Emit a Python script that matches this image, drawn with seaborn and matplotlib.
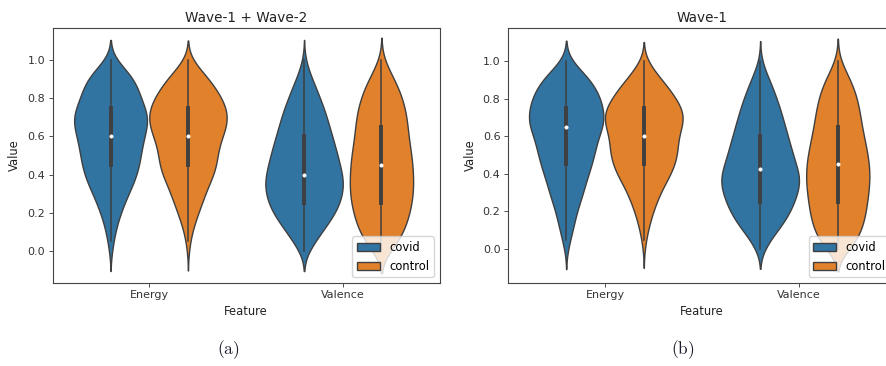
import matplotlib
matplotlib.use("Agg")
import matplotlib.pyplot as plt
import numpy as np
import pandas as pd
import seaborn as sns

# value bins (0.05 wide) and how many observations sit in each bin,
# read off the widths of the violins in the reference
bin_values = [0.00, 0.05, 0.10, 0.15, 0.20, 0.25, 0.30, 0.35, 0.40, 0.45, 0.50,
              0.55, 0.60, 0.65, 0.70, 0.75, 0.80, 0.85, 0.90, 0.95, 1.00]

features = ["Energy", "Valence"]
groups = ["covid", "control"]

# (a) Wave-1 + Wave-2
wave12_energy_covid = [5, 8, 14, 20, 30, 40, 52, 66, 76, 84, 87,
                       92, 98, 106, 112, 100, 88, 80, 70, 45, 15]
wave12_energy_control = [3, 6, 12, 20, 30, 40, 50, 60, 75, 82, 85,
                         88, 100, 110, 116, 110, 98, 80, 62, 35, 12]
wave12_valence_covid = [14, 32, 52, 72, 92, 104, 112, 116, 112, 104, 98,
                        90, 82, 74, 66, 58, 46, 36, 24, 12, 5]
wave12_valence_control = [30, 50, 66, 76, 84, 90, 94, 95, 94, 92, 90,
                          84, 80, 78, 75, 70, 62, 52, 38, 22, 8]

# (b) Wave-1
wave1_energy_covid = [6, 12, 20, 26, 32, 42, 52, 58, 68, 78, 84,
                      92, 96, 114, 116, 112, 104, 92, 74, 45, 14]
wave1_energy_control = [3, 6, 12, 18, 26, 36, 46, 60, 76, 86, 94,
                        94, 96, 106, 114, 106, 90, 72, 50, 28, 10]
wave1_valence_covid = [14, 30, 54, 76, 92, 104, 114, 122, 120, 108, 100,
                       92, 84, 76, 68, 60, 50, 40, 28, 15, 5]
wave1_valence_control = [40, 60, 70, 80, 84, 88, 92, 95, 96, 94, 90,
                         84, 78, 72, 68, 64, 58, 50, 38, 22, 8]


def build_frame(energy_covid, energy_control, valence_covid, valence_control):
    parts = []
    for feature, group, counts in [("Energy", "covid", energy_covid),
                                   ("Energy", "control", energy_control),
                                   ("Valence", "covid", valence_covid),
                                   ("Valence", "control", valence_control)]:
        values = np.repeat(bin_values, counts)
        parts.append(pd.DataFrame({"Feature": feature, "Group": group, "Value": values}))
    return pd.concat(parts, ignore_index=True)


panels = [
    ("Wave-1 + Wave-2",
     build_frame(wave12_energy_covid, wave12_energy_control,
                 wave12_valence_covid, wave12_valence_control),
     [0.0592, 0.2268, 0.4363, 0.6967], (-0.168, 1.168), "(a)", 0.257),
    ("Wave-1",
     build_frame(wave1_energy_covid, wave1_energy_control,
                 wave1_valence_covid, wave1_valence_control),
     [0.5727, 0.2268, 0.4374, 0.6967], (-0.181, 1.175), "(b)", 0.770),
]

plt.rcParams["font.family"] = ["DejaVu Sans"]
tick_fs = 8
label_fs = 8.3

fig = plt.figure(figsize=(8.87, 3.66), dpi=100)

for title, frame, rect, ylim, caption, cap_x in panels:
    ax = fig.add_axes(rect)
    # one call per feature so each pair of violins is scaled together
    for feature in features:
        sns.violinplot(
            data=frame[frame["Feature"] == feature],
            x="Feature", y="Value", hue="Group",
            order=features, hue_order=groups,
            common_norm=True, linewidth=1.0, inner="box",
            inner_kws=dict(box_width=2.8, whis_width=1.1, marker="o"),
            legend=(feature == features[-1]), ax=ax,
        )
    ax.set_ylim(*ylim)
    ax.set_title(title, fontsize=9.8, pad=4.5, color="#222222")
    ax.set_xlabel("Feature", fontsize=label_fs, labelpad=3, color="#222222")
    ax.set_ylabel("Value", fontsize=label_fs, labelpad=4.5, color="#222222")
    ax.tick_params(labelsize=tick_fs, length=2.7, width=0.6, pad=2.7, colors="#333333")
    for spine in ax.spines.values():
        spine.set_color("#444444")
        spine.set_linewidth(0.8)
    sns.move_legend(ax, "lower right", title=None, fontsize=label_fs,
                    handlelength=2.0, borderaxespad=0.5)
    fig.text(cap_x, 0.045, r"$\mathrm{" + caption + "}$", fontsize=12.5,
             ha="center", va="center", math_fontfamily="cm", color="#1a1a2a")

fig.savefig("out.png", dpi=100)
